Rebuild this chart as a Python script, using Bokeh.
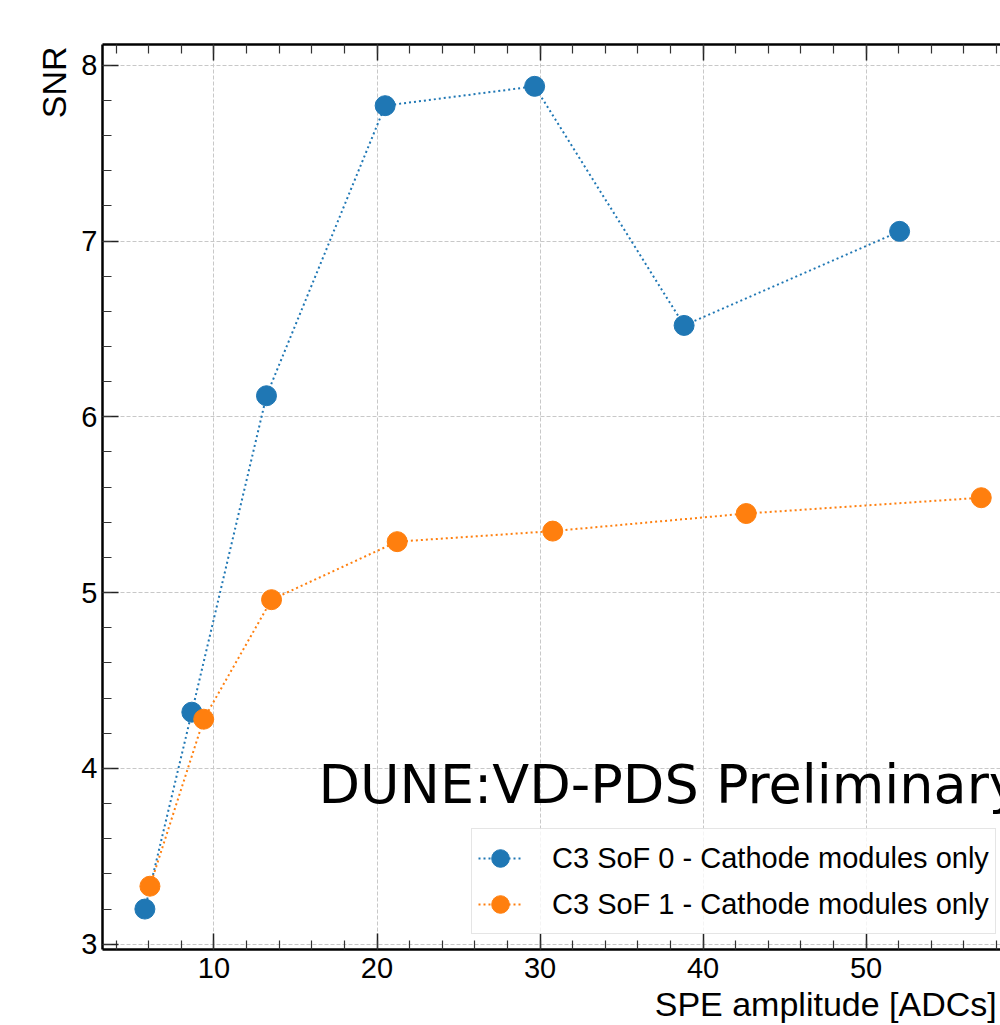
from bokeh.plotting import figure
from bokeh.models import (Range1d, LinearAxis, SingleIntervalTicker, Label, Legend, LegendItem)
from bokeh.embed import file_html
from bokeh.resources import INLINE

# ---- data ----
sof0_x = [5.76, 8.64, 13.22, 20.50, 29.67, 38.84, 52.06]
sof0_y = [3.20, 4.32, 6.12, 7.77, 7.88, 6.52, 7.055]
sof1_x = [6.07, 9.37, 13.53, 21.24, 30.78, 42.65, 57.07]
sof1_y = [3.33, 4.28, 4.96, 5.29, 5.35, 5.45, 5.54]
label0 = "C3 SoF 0 - Cathode modules only"
label1 = "C3 SoF 1 - Cathode modules only"
x_label = "SPE amplitude [ADCs]"
y_label = "SNR"
watermark = "DUNE:VD-PDS Preliminary"

BLUE = "#1f77b4"
ORANGE = "#ff7f0e"
FONT = "Liberation Sans"
NBSP = "\u00a0"

p = figure(width=1000, height=1025, output_backend="svg", toolbar_location=None,
           x_range=Range1d(3.16, 58.25), y_range=Range1d(2.97, 8.118),
           x_axis_location=None, y_axis_location=None,
           min_border_left=102, min_border_right=0, min_border_top=44, min_border_bottom=75)
p.outline_line_color = None
p.background_fill_color = "white"
p.border_fill_color = "white"

xt = SingleIntervalTicker(interval=10, num_minor_ticks=5)
yt = SingleIntervalTicker(interval=1, num_minor_ticks=5)

def style(ax, labels=True):
    ax.axis_line_width = 2.5
    ax.axis_line_color = "black"
    ax.major_tick_in = 16
    ax.major_tick_out = 0
    ax.minor_tick_in = 9
    ax.minor_tick_out = 0
    ax.major_tick_line_width = 1.5
    ax.minor_tick_line_width = 1.2
    ax.major_tick_line_color = "#222222"
    ax.minor_tick_line_color = "#333333"
    ax.major_label_text_font = FONT
    ax.major_label_text_font_size = "29px"
    ax.major_label_text_color = "black" if labels else None
    ax.axis_label_text_font = FONT
    ax.axis_label_text_font_size = "34px"
    ax.axis_label_text_font_style = "normal"
    ax.axis_label_text_color = "black"

# axis labels are anchored at the far end of each axis (matplotlib-hep style);
# trailing no-break spaces shift the centred text back inside the canvas
xb = LinearAxis(ticker=xt, axis_label=x_label + NBSP * 37)
style(xb)
xb.major_label_standoff = 8
xb.axis_label_standoff = 4
xb.axis_label_align = "end"
p.add_layout(xb, "below")

xa = LinearAxis(ticker=xt)
style(xa, labels=False)
xa.major_label_text_font_size = "0px"
p.add_layout(xa, "above")

yl = LinearAxis(ticker=yt, axis_label=y_label + NBSP * 8)
style(yl)
yl.major_label_standoff = 5
yl.axis_label_standoff = 5
yl.axis_label_align = "end"
p.add_layout(yl, "left")

p.xgrid.ticker = xt
p.ygrid.ticker = yt
for g in (p.xgrid, p.ygrid):
    g.grid_line_color = "#c8c8c8"
    g.grid_line_dash = "4 2"
    g.grid_line_width = 1

l0 = p.line(sof0_x, sof0_y, line_color=BLUE, line_width=2, line_dash="2 3")
s0 = p.scatter(sof0_x, sof0_y, size=20, fill_color=BLUE, line_color=BLUE)
l1 = p.line(sof1_x, sof1_y, line_color=ORANGE, line_width=2, line_dash="2 3")
s1 = p.scatter(sof1_x, sof1_y, size=20, fill_color=ORANGE, line_color=ORANGE)

legend = Legend(items=[LegendItem(label=label0, renderers=[l0, s0]),
                       LegendItem(label=label1, renderers=[l1, s1])],
                location=(369, 15))
legend.label_text_font = FONT
legend.label_text_font_size = "29px"
legend.label_text_color = "black"
legend.glyph_width = 44
legend.glyph_height = 46
legend.label_height = 33
legend.label_standoff = 30
legend.spacing = -3
legend.padding = 6
legend.margin = 0
legend.border_line_color = "#cccccc"
legend.border_line_width = 1
legend.background_fill_alpha = 0.8
p.add_layout(legend, "center")

p.add_layout(Label(x=16.41, y=3.907, text=watermark, text_font="DejaVu Sans",
                   text_font_size="54px", text_color="black", text_baseline="alphabetic",
                   text_align="left"))

open("out.html", "w").write(file_html(p, INLINE))
